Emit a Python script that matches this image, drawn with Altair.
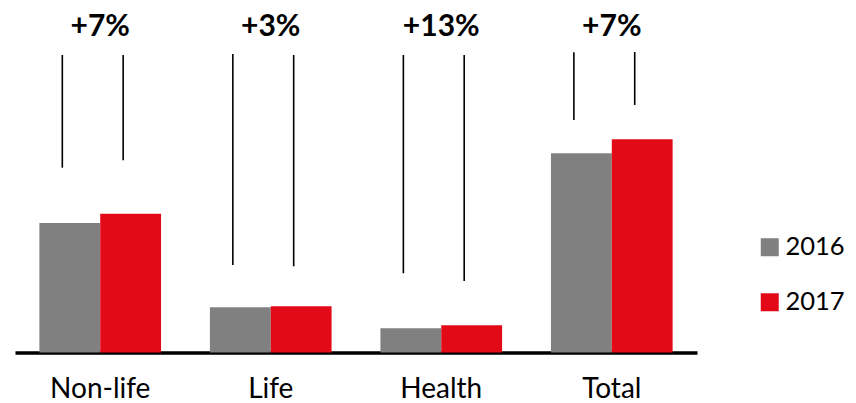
import altair as alt
import pandas as pd

categories = ["Non-life", "Life", "Health", "Total"]
years = ["2016", "2017"]
values_2016 = [129.5, 45.2, 24.2, 199.2]
values_2017 = [138.8, 46.2, 27.2, 213.2]
growth_labels = ["+7%", "+3%", "+13%", "+7%"]
line_top_2016 = [297.5, 298.5, 297.5, 300.2]
line_top_2017 = [297.5, 297.5, 297.5, 300.5]
line_bottom_2016 = [184.8, 87.5, 79.2, 232.5]
line_bottom_2017 = [192.2, 86.2, 71.5, 247.5]

bars_df = pd.DataFrame(
    [{"cat": c, "year": years[0], "value": v} for c, v in zip(categories, values_2016)]
    + [{"cat": c, "year": years[1], "value": v} for c, v in zip(categories, values_2017)]
)
lines_df = pd.DataFrame(
    [{"cat": c, "year": years[0], "top": t, "bottom": b}
     for c, t, b in zip(categories, line_top_2016, line_bottom_2016)]
    + [{"cat": c, "year": years[1], "top": t, "bottom": b}
       for c, t, b in zip(categories, line_top_2017, line_bottom_2017)]
)
labels_df = pd.DataFrame({"cat": categories, "label": growth_labels})

FONT = "Lato"
x_enc = alt.X(
    "cat:N",
    sort=categories,
    scale=alt.Scale(domain=categories, paddingInner=0.2865, paddingOuter=0.143),
    axis=alt.Axis(
        title=None, ticks=False, domain=True, domainColor="black", domainWidth=3.5,
        labelAngle=0, labelFontSize=28, labelColor="black", labelFont=FONT,
        labelPadding=23, grid=False,
    ),
)
y_scale = alt.Scale(domain=[0, 300], nice=False, zero=True)

bars = alt.Chart(bars_df).mark_bar().encode(
    x=x_enc,
    xOffset=alt.XOffset("year:N", scale=alt.Scale(domain=years, paddingInner=0, paddingOuter=0)),
    y=alt.Y("value:Q", scale=y_scale, axis=None),
    color=alt.Color(
        "year:N",
        scale=alt.Scale(domain=years, range=["#808080", "#E20A17"]),
        legend=alt.Legend(
            title=None, orient="none", legendX=742, legendY=182,
            symbolType="square", symbolSize=324, symbolStrokeWidth=0, symbolOpacity=1,
            labelFontSize=25.5, labelFont=FONT, labelColor="black", labelOffset=3,
            labelLimit=300, rowPadding=28, padding=0,
        ),
    ),
)

rules = alt.Chart(lines_df).mark_rule(color="black", strokeWidth=1.6).encode(
    x=x_enc,
    xOffset=alt.XOffset(
        "year:N",
        scale=alt.Scale(domain=years, paddingInner=0.246, paddingOuter=0.123, align=0),
    ),
    y=alt.Y("top:Q", scale=y_scale, axis=None),
    y2="bottom:Q",
)

texts = alt.Chart(labels_df).mark_text(
    fontSize=30, fontWeight="bold", font=FONT, color="black", baseline="middle", align="center"
).encode(
    x=x_enc,
    y=alt.value(-25.5),
    text="label:N",
)

chart = alt.layer(bars, rules, texts).resolve_scale(xOffset="independent").properties(
    width=682, height=300,
    autosize=alt.AutoSizeParams(type="none"),
    padding={"left": 7, "top": 44.5, "right": 151, "bottom": 50},
).configure_view(stroke=None)

chart.save("out.html", embed_options={"renderer": "svg", "actions": False})
